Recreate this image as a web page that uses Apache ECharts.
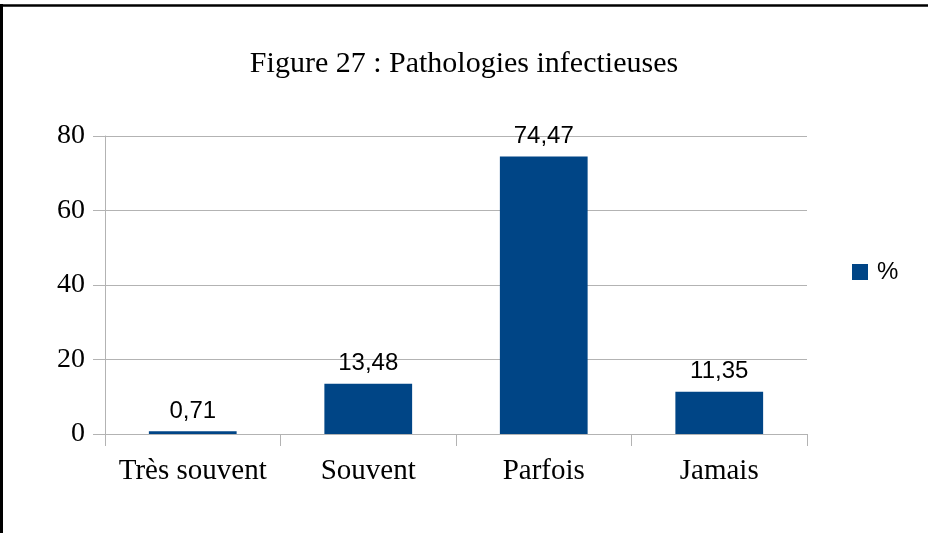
<!DOCTYPE html>
<html>
<head>
<meta charset="utf-8">
<script src="https://cdn.jsdelivr.net/npm/echarts@6/dist/echarts.min.js"></script>
<style>
html,body{margin:0;padding:0;background:#fff;}
#chart{width:928px;height:533px;}
</style>
</head>
<body>
<div id="chart"></div>
<script>
const categories = ["Très souvent", "Souvent", "Parfois", "Jamais"];
const values = [0.71, 13.48, 74.47, 11.35];
const seriesName = "%";
const titleText = "Figure 27 : Pathologies infectieuses";
const yTicks = [0, 20, 40, 60, 80];

const chart = echarts.init(document.getElementById('chart'), null, {renderer: 'canvas'});
const serif = '"Liberation Serif", "Times New Roman", serif';
const sans = '"Liberation Sans", Arial, sans-serif';
chart.setOption({
  animation: false,
  backgroundColor: '#fff',
  graphic: [
    {type: 'line', shape: {x1: 0, y1: 5.5, x2: 928, y2: 5.5}, style: {stroke: '#000', lineWidth: 2.5}},
    {type: 'line', shape: {x1: 1.5, y1: 4, x2: 1.5, y2: 533}, style: {stroke: '#000', lineWidth: 3}}
  ],
  title: {
    text: titleText,
    left: 'center',
    top: 44,
    textStyle: {fontFamily: serif, fontSize: 30, fontWeight: 'normal', color: '#000'}
  },
  legend: {
    data: [seriesName],
    left: 852,
    top: 260,
    padding: 0,
    itemWidth: 16,
    itemHeight: 16,
    icon: 'rect',
    textStyle: {fontFamily: sans, fontSize: 24, color: '#000', padding: [0, 0, 0, 4]}
  },
  grid: {left: 105, right: 121, top: 136, bottom: 99, containLabel: false},
  xAxis: {
    type: 'category',
    data: categories,
    axisLine: {show: true, lineStyle: {color: '#b3b3b3', width: 1}},
    axisTick: {show: true, length: 12, interval: 0, lineStyle: {color: '#b3b3b3'}},
    axisLabel: {fontFamily: serif, fontSize: 29, color: '#000', margin: 23, interval: 0},
    splitLine: {show: false}
  },
  yAxis: {
    type: 'value',
    min: 0, max: 80, interval: 20,
    axisLine: {show: true, lineStyle: {color: '#b3b3b3', width: 1}},
    axisTick: {show: true, length: 12, inside: false, lineStyle: {color: '#b3b3b3'}},
    axisLabel: {fontFamily: serif, fontSize: 28, color: '#000', margin: 20, padding: [10, 0, 0, 0]},
    splitLine: {show: true, lineStyle: {color: '#b3b3b3', width: 1}}
  },
  series: [{
    name: seriesName,
    type: 'bar',
    data: values,
    barWidth: '50%',
    itemStyle: {color: '#004586'},
    label: {
      show: true,
      position: 'top',
      distance: 8,
      fontFamily: sans,
      fontSize: 24,
      color: '#000',
      formatter: p => p.value.toFixed(2).replace('.', ',')
    }
  }]
});
</script>
</body>
</html>
